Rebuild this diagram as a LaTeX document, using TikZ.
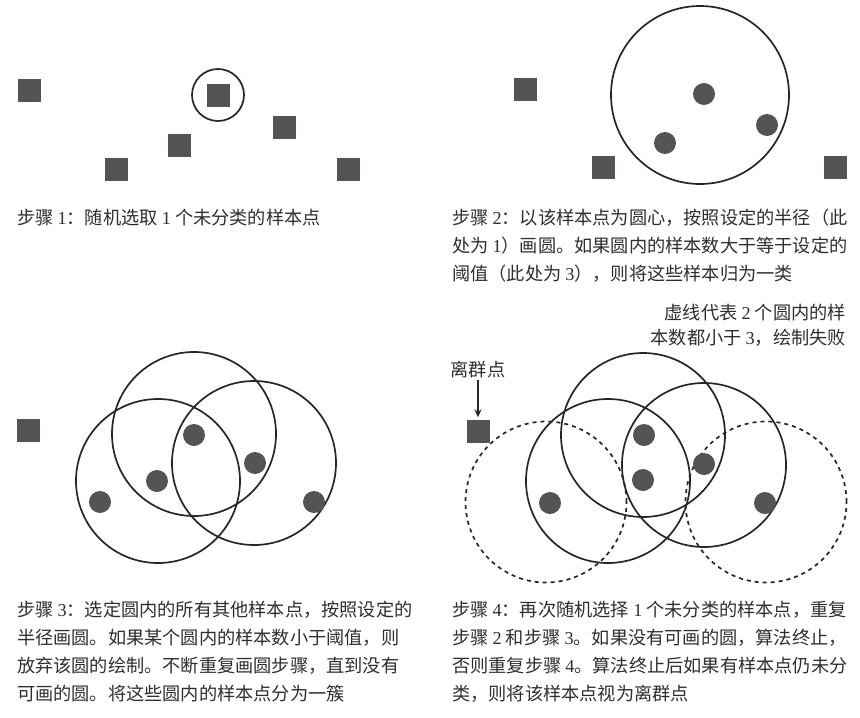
\documentclass[tikz,border=0pt]{standalone}
\usepackage{fontspec}
\setmainfont{Liberation Serif}
\newfontfamily\cjk{Noto Sans CJK SC}
\usetikzlibrary{arrows.meta, positioning}
\definecolor{ink}{HTML}{555353}
\definecolor{txt}{HTML}{2e2e2e}
\newcommand{\rmd}[1]{{\rmfamily #1}}

\begin{document}
\begin{tikzpicture}[x=1pt, y=-1pt,
  sample/.style={shape=rectangle, minimum size=23pt, inner sep=0pt, fill=ink},
  core/.style={shape=circle, minimum size=22pt, inner sep=0pt, fill=ink},
  ring/.style={shape=circle, minimum size=164pt, inner sep=0pt, draw=black!85, line width=1.7pt},
  failed/.style={ring, minimum size=161pt, dash pattern=on 4pt off 4pt},
  caption/.style={anchor=north west, inner sep=0pt, align=left, text=txt, font=\cjk\fontsize{18.2}{28}\selectfont}]
\useasboundingbox (0,0) rectangle (860,718);
%step 1
\node[sample] (a1) at (29,90) {};
\node[sample] (a2) at (218,95) {};
\node[sample] (a3) at (179,145) {};
\node[sample] (a4) at (284,127) {};
\node[sample] (a5) at (116,169) {};
\node[sample] (a6) at (348,169) {};
\node[shape=circle, minimum size=52pt, inner sep=0pt, draw=black!85, line width=1.7pt] (pick) at (a2) {};
\node[caption] (cap1) at (17,209) {步骤 \rmd{1}：随机选取 \rmd{1} 个未分类的样本点};
%step 2
\node[sample] (b1) at (525,89) {};
\node[sample] (b2) at (603,167) {};
\node[sample] (b3) at (835,167) {};
\node[ring, minimum size=178pt] (r2) at (700,95) {};
\node[core] (b4) at (704,94) {};
\node[core] (b5) at (767,125) {};
\node[core] (b6) at (665,143) {};
\node[caption] (cap2) at (452,209) {步骤 \rmd{2}：以该样本点为圆心，按照设定的半径（此\\
处为 \rmd{1}）画圆。如果圆内的样本数大于等于设定的\\
阈值（此处为 \rmd{3}），则将这些样本归为一类};
%step 3
\node[sample] (c0) at (28,430) {};
\node[ring] (r3a) at (194,434) {};
\node[ring] (r3b) at (158,481) {};
\node[ring] (r3c) at (254,463) {};
\node[core] (c1) at (194,435) {};
\node[core] (c2) at (255,463) {};
\node[core] (c3) at (157,481) {};
\node[core] (c4) at (100,502) {};
\node[core] (c5) at (314,502) {};
\node[caption] (cap3) at (17,601) {步骤 \rmd{3}：选定圆内的所有其他样本点，按照设定的\\
半径画圆。如果某个圆内的样本数小于阈值，则\\
放弃该圆的绘制。不断重复画圆步骤，直到没有\\
可画的圆。将这些圆内的样本点分为一簇};
%step 4
\node[sample] (d0) at (478,431) {};
\node[text=txt, font=\cjk\fontsize{18.2}{22}\selectfont, inner sep=1pt] (outlier) at (478,370) {离群点};
\draw[-{Stealth[length=8pt, width=7pt]}, line width=1.3pt, black!85, shorten >=2pt] (outlier.south) -- (d0.north);
\node[failed] (f1) at (546,502) {};
\node[failed] (f2) at (766,502) {};
\node[ring] (r4a) at (643,435) {};
\node[ring] (r4b) at (608,481) {};
\node[ring] (r4c) at (704,465) {};
\node[core] (d1) at (644,435) {};
\node[core] (d2) at (643,480) {};
\node[core] (d3) at (704,464) {};
\node[core] (d4) at (550,503) {};
\node[core] (d5) at (765,503) {};
\node[anchor=north east, inner sep=0pt, align=right, text=txt, font=\cjk\fontsize{18.2}{25}\selectfont] (note) at (846,304) {虚线代表 \rmd{2} 个圆内的样\\
本数都小于 \rmd{3}，绘制失败};
\node[caption] (cap4) at (452,601) {步骤 \rmd{4}：再次随机选择 \rmd{1} 个未分类的样本点，重复\\
步骤 \rmd{2} 和步骤 \rmd{3}。如果没有可画的圆，算法终止，\\
否则重复步骤 \rmd{4}。算法终止后如果有样本点仍未分\\
类，则将该样本点视为离群点};
\end{tikzpicture}
\end{document}
